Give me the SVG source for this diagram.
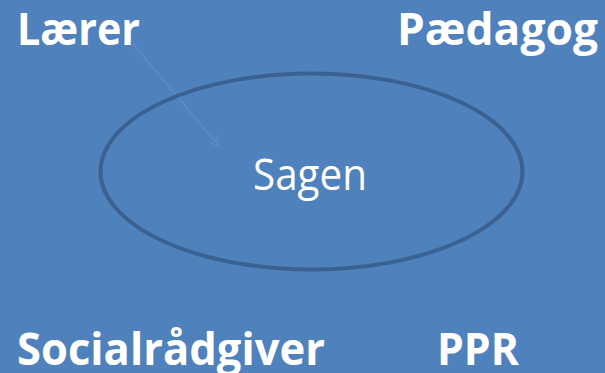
<svg xmlns="http://www.w3.org/2000/svg" width="605" height="373" viewBox="0 0 605 373">
<style>
.lbl{font-family:"Open Sans","Liberation Sans",sans-serif;font-weight:bold;font-size:44px;fill:#ffffff}
.ctr{font-family:"Open Sans","Liberation Sans",sans-serif;font-size:43px;fill:#ffffff}
</style>
<defs>
<marker id="arr" markerWidth="12" markerHeight="12" refX="10" refY="6" orient="auto" markerUnits="userSpaceOnUse">
<path d="M1,1 L10,6 L1,11" fill="none" stroke="#5e8dc6" stroke-width="1.2"/>
</marker>
</defs>
<rect x="0" y="0" width="605" height="373" fill="#4f81bd"/>
<g id="connectors">
<line x1="133" y1="44" x2="219" y2="146" stroke="#5e8dc6" stroke-width="1.2" marker-end="url(#arr)"/>
</g>
<g id="sagen">
<ellipse cx="311.5" cy="171.5" rx="211" ry="98" fill="none" stroke="#3b6192" stroke-width="4"/>
<text class="ctr" x="310" y="190" text-anchor="middle" textLength="114" lengthAdjust="spacingAndGlyphs">Sagen</text>
</g>
<g id="laerer"><text class="lbl" x="17" y="45" textLength="123" lengthAdjust="spacingAndGlyphs">Lærer</text></g>
<g id="paedagog"><text class="lbl" x="397" y="45" textLength="201" lengthAdjust="spacingAndGlyphs">Pædagog</text></g>
<g id="socialraadgiver"><text class="lbl" x="17" y="365" textLength="308" lengthAdjust="spacingAndGlyphs">Socialrådgiver</text></g>
<g id="ppr"><text class="lbl" x="437" y="365" textLength="82" lengthAdjust="spacingAndGlyphs">PPR</text></g>
</svg>
